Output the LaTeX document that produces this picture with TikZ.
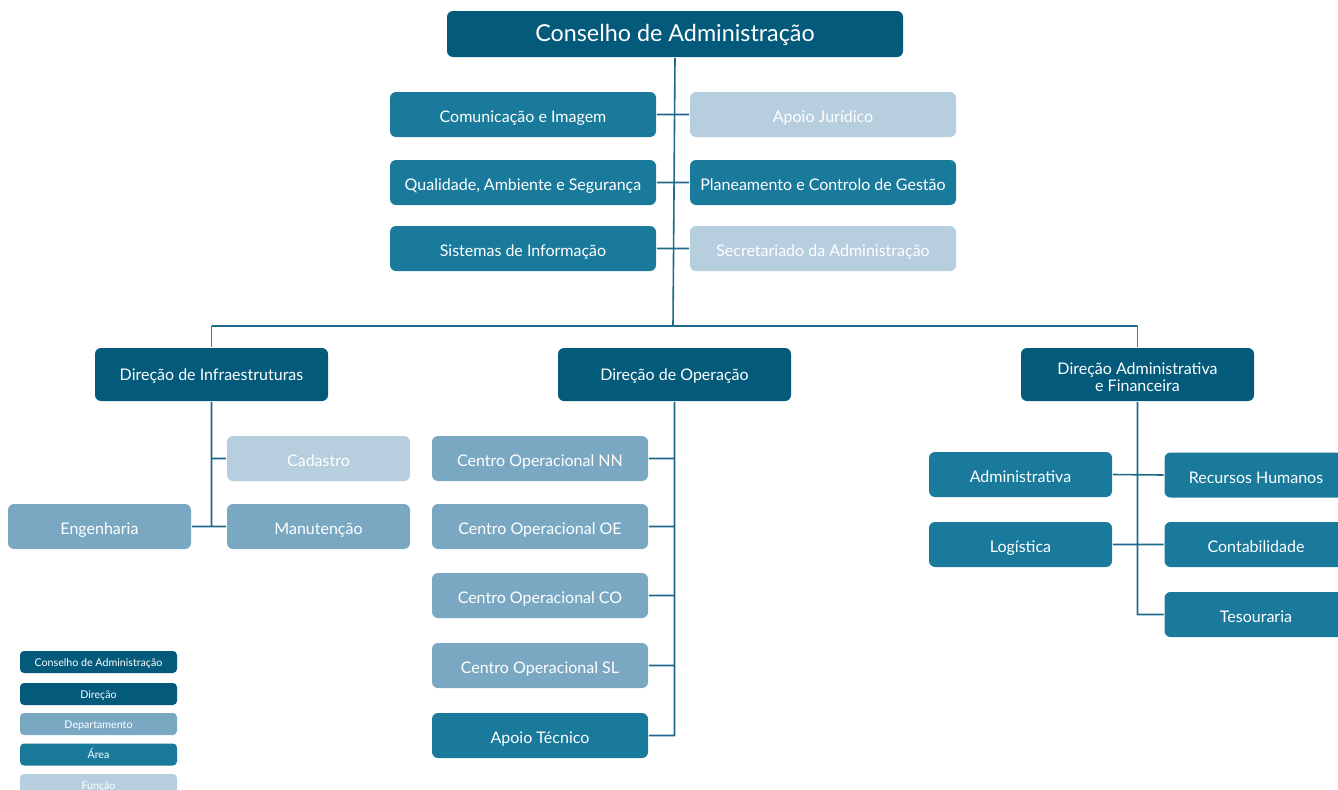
\documentclass[tikz,border=0pt]{standalone}
\usepackage{fontspec}
\setmainfont{Lato}
\usetikzlibrary{positioning}

\definecolor{dirblue}{HTML}{035A7B}
\definecolor{areablue}{HTML}{197A9B}
\definecolor{depblue}{HTML}{7AA8C3}
\definecolor{funblue}{HTML}{B7CEDE}
\definecolor{linkblue}{HTML}{1D6A8A}
\definecolor{linkred}{HTML}{8E5B6E}

\begin{document}
\begin{tikzpicture}[x=0.75pt,y=-0.75pt,line width=1.2pt,
    box/.style={rectangle,rounded corners=4.5pt,text=white,inner sep=2pt,
      align=center,font=\fontsize{12}{13}\selectfont,text height=12.4pt,text depth=0pt},
    conselho/.style={box,fill=dirblue,minimum width=342pt,minimum height=34.5pt,
      font=\fontsize{17.5}{20}\selectfont,text height=11.1pt},
    direcao/.style={box,fill=dirblue,minimum width=174.75pt,minimum height=39.75pt,
      text height=9.4pt},
    areabox/.style={box,fill=areablue,minimum width=199.5pt,minimum height=33.75pt},
    funbox/.style={box,fill=funblue,minimum width=199.5pt,minimum height=33.75pt},
    subbox/.style={box,minimum width=137.25pt,minimum height=33.75pt},
    centro/.style={box,fill=depblue,minimum width=162pt,minimum height=33.75pt},
    legenda/.style={box,rounded corners=3pt,minimum width=117.75pt,minimum height=16.5pt,
      inner sep=0pt,font=\fontsize{8}{9}\selectfont,text height=6.5pt},
    link/.style={draw=linkblue}]

    \clip (0,0) rectangle (1338,789);

    % topo
    \node[conselho] (ca) at (675,34) {Conselho de Administração};

    \node[areabox] (com) at (523,114.5) {Comunicação e Imagem};
    \node[funbox]  (apo) at (823,114.5) {Apoio Jurídico};
    \node[areabox] (qas) at (523,182.5) {Qualidade, Ambiente e Segurança};
    \node[areabox] (pcg) at (823,182.5) {Planeamento e Controlo de Gestão};
    \node[areabox] (sis) at (523,248.5) {Sistemas de Informação};
    \node[funbox]  (sec) at (823,248.5) {Secretariado da Administração};

    \coordinate (bus) at (673,326);

    % direcoes
    \node[direcao] (dinf) at (211.5,374.5) {Direção de Infraestruturas};
    \node[direcao] (dop)  at (674.5,374.5) {Direção de Operação};
    \node[direcao,text height=25.9pt] (daf) at (1137.5,374.5) {Direção Administrativa\\e Financeira};

    % infraestruturas
    \node[subbox,fill=funblue] (cad) at (318.5,458.5) {Cadastro};
    \node[subbox,fill=depblue] (man) at (318.5,526.5) {Manutenção};
    \node[subbox,fill=depblue] (eng) at (99.5,526.5) {Engenharia};

    % operacao
    \node[centro] (cnn) at (540,458.5) {Centro Operacional NN};
    \node[centro] (coe) at (540,526.5) {Centro Operacional OE};
    \node[centro] (cco) at (540,595.5) {Centro Operacional CO};
    \node[centro] (csl) at (540,665.5) {Centro Operacional SL};
    \node[centro,fill=areablue] (apt) at (540,735.5) {Apoio Técnico};

    % administrativa e financeira
    \node[subbox,fill=areablue] (adm)  at (1020.5,474.5) {Administrativa};
    \node[subbox,fill=areablue] (log)  at (1020.5,544.5) {Logística};
    \node[subbox,fill=areablue] (rh)   at (1256,475) {Recursos Humanos};
    \node[subbox,fill=areablue] (cont) at (1256,544.5) {Contabilidade};
    \node[subbox,fill=areablue] (tes)  at (1256,614.5) {Tesouraria};

    % legenda
    \node[legenda,fill=dirblue]  (l1) at (98.5,662) {Conselho de Administração};
    \node[legenda,fill=dirblue]  (l2) at (98.5,694) {Direção};
    \node[legenda,fill=depblue]  (l3) at (98.5,724) {Departamento};
    \node[legenda,fill=areablue] (l4) at (98.5,754.5) {Área};
    \node[legenda,fill=funblue]  (l5) at (98.5,785) {Função};

    % ligacoes
    \path[link]
    (ca.south) -- (bus)
    (com.east) -- (apo.west)
    (qas.east) -- (pcg.west)
    (sis.east) -- (sec.west)
    (dinf.north |- bus) -- (daf.north |- bus)

    (dinf.south) -- (dinf.south |- man.west)
    (cad.west) -- (cad.west -| dinf.south)
    (eng.east) -- (man.west)

    (dop.south) |- (apt.east)
    (cnn.east) -- (cnn.east -| dop.south)
    (coe.east) -- (coe.east -| dop.south)
    (cco.east) -- (cco.east -| dop.south)
    (csl.east) -- (csl.east -| dop.south)

    (daf.south) |- (tes.west)
    (adm.east) -- (rh.west)
    (log.east) -- (cont.west)
    ;
    \draw[linkred] (dinf.north) -- (dinf.north |- bus);
    \draw[linkred] (daf.north) -- (daf.north |- bus);
  \end{tikzpicture}
\end{document}
